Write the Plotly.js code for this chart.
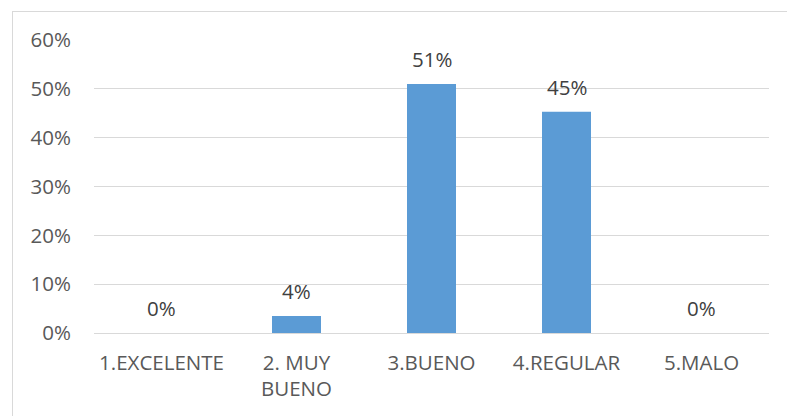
<!DOCTYPE html>
<html>
<head>
<meta charset="utf-8">
<script src="https://cdn.plot.ly/plotly-3.0.1.min.js"></script>
<style>
html,body{margin:0;padding:0;background:#fff;overflow:hidden;}
#frame{position:absolute;left:12px;top:11px;width:800px;height:420px;border-left:1px solid #d9d9d9;border-top:1px solid #d9d9d9;box-sizing:border-box;pointer-events:none;z-index:5;}
#chart{position:absolute;left:0;top:0;width:787px;height:416px;}
</style>
</head>
<body>
<div id="chart"></div>
<div id="frame"></div>
<script>
var categories = ["1.EXCELENTE", "2. MUY<br>BUENO", "3.BUENO", "4.REGULAR", "5.MALO"];
var values = [0, 0.035, 0.51, 0.453, 0];
var labels = ["0%", "4%", "51%", "45%", "0%"];
var tickVals = [0, 0.1, 0.2, 0.3, 0.4, 0.5, 0.6];
var tickText = ["0%", "10%", "20%", "30%", "40%", "50%", "60%"];

var trace = {
  type: "bar",
  x: categories,
  y: values,
  marker: {color: "#5b9bd5"},
  hoverinfo: "none"
};

var annotations = categories.map(function(c, i) {
  return {
    x: c, y: values[i], xref: "x", yref: "y",
    text: labels[i], showarrow: false,
    yanchor: "bottom", yshift: 9,
    font: {family: "Open Sans, sans-serif", size: 20.5, color: "#404040"}
  };
});

var layout = {
  width: 787, height: 416,
  margin: {l: 94, r: 18, t: 40, b: 83},
  paper_bgcolor: "#ffffff",
  plot_bgcolor: "#ffffff",
  bargap: 0.637,
  showlegend: false,
  xaxis: {
    type: "category",
    showgrid: false,
    showline: false,
    zeroline: false,
    ticks: "",
    ticklabelstandoff: 15,
    tickfont: {family: "Open Sans, sans-serif", size: 20.5, color: "#595959"}
  },
  yaxis: {
    range: [0, 0.6],
    tickvals: tickVals,
    ticktext: tickText,
    showgrid: true,
    gridcolor: "#d9d9d9",
    gridwidth: 1,
    zeroline: true,
    zerolinecolor: "#d9d9d9",
    zerolinewidth: 1,
    showline: false,
    ticks: "",
    ticklabelstandoff: 22,
    tickfont: {family: "Open Sans, sans-serif", size: 20.5, color: "#595959"}
  },
  annotations: annotations
};

Plotly.newPlot("chart", [trace], layout, {displayModeBar: false, staticPlot: true});
</script>
</body>
</html>
